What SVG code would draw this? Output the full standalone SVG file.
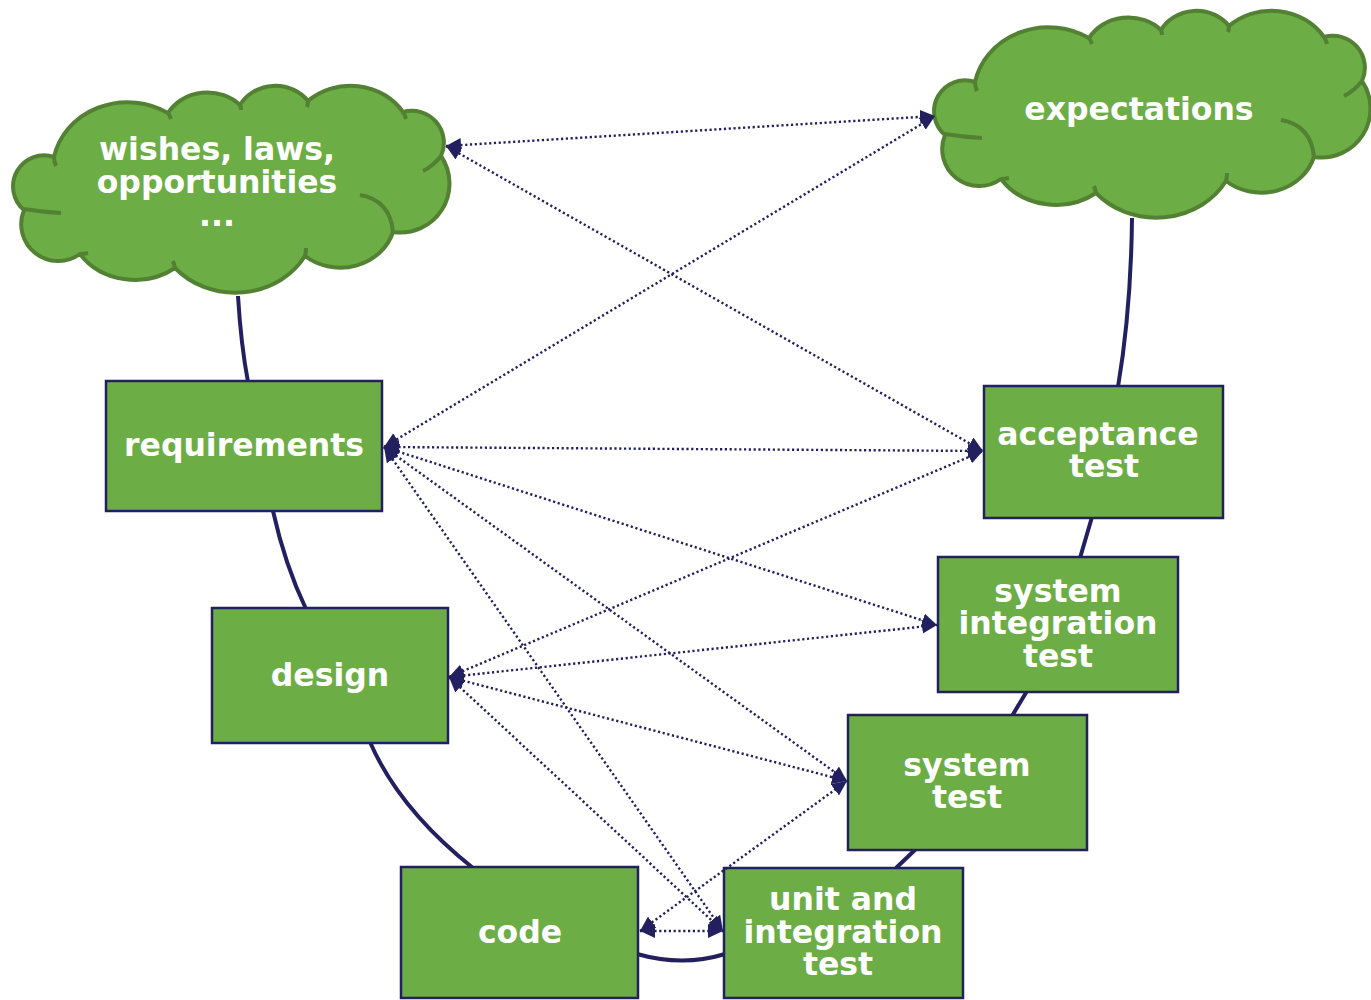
<svg xmlns="http://www.w3.org/2000/svg" xmlns:xlink="http://www.w3.org/1999/xlink" width="1371" height="1000" viewBox="0 0 1371 1000">
<style>
.cloud{fill:#6cad45;stroke:#538133;stroke-width:4;stroke-linejoin:round}
.tail{fill:none;stroke:#538133;stroke-width:4;stroke-linecap:butt}
.box{fill:#6cad45;stroke:#23205f;stroke-width:2.5}
.lbl{font-family:"DejaVu Sans",Verdana,sans-serif;font-weight:bold;font-size:31.5px;fill:#ffffff;text-anchor:middle}
.vline{fill:none;stroke:#23205f;stroke-width:4}
.dot{fill:none;stroke:#23205f;stroke-width:2.4;stroke-dasharray:2.2 2.6;marker-start:url(#ah);marker-end:url(#ah)}
</style>
<defs>
<marker id="ah" markerUnits="userSpaceOnUse" markerWidth="17" markerHeight="15" refX="15" refY="7" orient="auto-start-reverse" viewBox="0 0 17 15">
<path d="M0,0 L15,7 L0,14 z" fill="#23205f"/>
</marker>
<g id="cloudShape">
<path class="cloud" d="M 54 157 A 75 68 0 0 1 168 113 A 45 40 0 0 1 240 105 A 40 36 0 0 1 308 101 A 62 56 0 0 1 403 112 A 32 32 0 0 1 441 156 A 49 49 0 0 1 393 232 A 55 50 0 0 1 305 256 A 80 72 0 0 1 175 268 A 66 58 0 0 1 80 254 A 37 37 0 0 1 24 210 A 31 31 0 0 1 54 157 Z"/>
<path class="tail" d="M 24 209 Q 42 212 61 213 M 393 232 Q 390 200 360 195 M 441 156 Q 433 166 423 171 M 54 157 Q 54 162 56 166 M 168 113 Q 170 116 171 119 M 240 105 Q 241 107 241 110 M 308 101 Q 308 104 307 107 M 403 112 Q 405 115 406 119 M 305 256 Q 306 252 306 248 M 175 268 Q 174 264 173 261 M 80 254 Q 84 254 88 253"/>
</g>
</defs>
<rect width="1371" height="1000" fill="#ffffff"/>
<g id="vshape">
<path class="vline" d="M 238 296 Q 241 345 248 382 M 273 511 Q 285 565 306 609 M 370 742 Q 399 809 473 868 M 637 954 Q 683 967 725 954 M 896 868 L 916 849 M 1012 716 L 1027 691 M 1080 558 L 1092 517 M 1118 387 Q 1131 310 1132 218"/>
</g>
<g id="wishes">
<use xlink:href="#cloudShape"/>
<text class="lbl" x="217" y="160">wishes, laws,</text>
<text class="lbl" x="217" y="193">opportunities</text>
<text class="lbl" x="217" y="226">...</text>
</g>
<g id="expectations">
<use xlink:href="#cloudShape" transform="translate(921,-75)"/>
<text class="lbl" x="1139" y="120">expectations</text>
</g>
<g id="requirements">
<rect class="box" x="106" y="381" width="276" height="130"/>
<text class="lbl" x="244" y="456">requirements</text>
</g>
<g id="acceptance">
<rect class="box" x="984" y="386" width="239" height="132"/>
<text class="lbl" x="1098" y="445">acceptance</text>
<text class="lbl" x="1104" y="477">test</text>
</g>
<g id="sysint">
<rect class="box" x="938" y="557" width="240" height="135"/>
<text class="lbl" x="1058" y="602">system</text>
<text class="lbl" x="1058" y="634">integration</text>
<text class="lbl" x="1058" y="667">test</text>
</g>
<g id="design">
<rect class="box" x="212" y="608" width="236" height="135"/>
<text class="lbl" x="330" y="686">design</text>
</g>
<g id="systest">
<rect class="box" x="848" y="715" width="239" height="135"/>
<text class="lbl" x="967" y="776">system</text>
<text class="lbl" x="967" y="808">test</text>
</g>
<g id="code">
<rect class="box" x="401" y="867" width="237" height="131"/>
<text class="lbl" x="520" y="943">code</text>
</g>
<g id="unit">
<rect class="box" x="724" y="868" width="239" height="130"/>
<text class="lbl" x="843" y="910">unit and</text>
<text class="lbl" x="843" y="943">integration</text>
<text class="lbl" x="838" y="975">test</text>
</g>
<g id="connectors">
<line class="dot" x1="446" y1="146" x2="935" y2="116"/>
<line class="dot" x1="446" y1="146" x2="983" y2="451"/>
<line class="dot" x1="384" y1="447" x2="935" y2="116"/>
<line class="dot" x1="384" y1="447" x2="983" y2="451"/>
<line class="dot" x1="384" y1="447" x2="937" y2="625"/>
<line class="dot" x1="384" y1="447" x2="847" y2="781"/>
<line class="dot" x1="384" y1="447" x2="723" y2="931"/>
<line class="dot" x1="449" y1="677" x2="983" y2="451"/>
<line class="dot" x1="449" y1="677" x2="937" y2="625"/>
<line class="dot" x1="449" y1="677" x2="847" y2="781"/>
<line class="dot" x1="449" y1="677" x2="723" y2="931"/>
<line class="dot" x1="640" y1="931" x2="847" y2="781"/>
<line class="dot" x1="640" y1="931" x2="723" y2="931"/>
</g>
</svg>
